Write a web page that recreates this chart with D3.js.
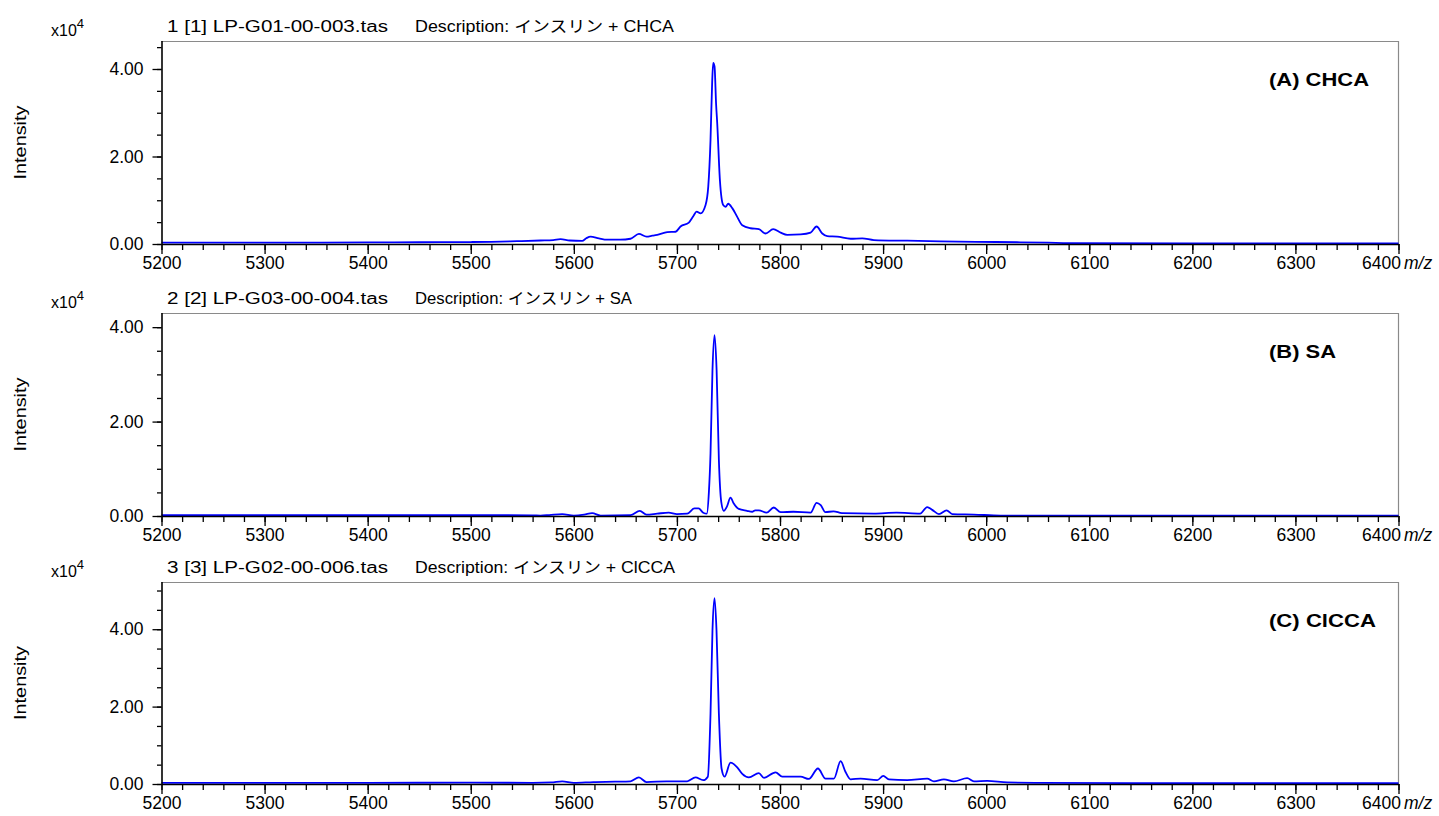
<!DOCTYPE html>
<html>
<head>
<meta charset="utf-8">
<script src="https://cdn.jsdelivr.net/npm/d3@7"></script>
<style>
  html, body { margin: 0; padding: 0; background: #fff; }
  svg { display: block; }
  text { font-family: "Liberation Sans", Arial, "Noto Sans CJK JP", sans-serif; fill: #000; }
</style>
</head>
<body>
<svg id="chart" width="1439" height="816"></svg>
<script>
// ---- Data ----
const xTicksMajor = [5200, 5300, 5400, 5500, 5600, 5700, 5800, 5900, 6000, 6100, 6200, 6300, 6400];
const yTicksMajor = [0, 2, 4];
const yUnitLabel = "x10";
const yUnitExp = "4";
const xAxisTitle = "m/z";
const yAxisTitle = "Intensity";

const fileNames = ["1 [1] LP-G01-00-003.tas", "2 [2] LP-G03-00-004.tas", "3 [3] LP-G02-00-006.tas"];
const descriptions = ["Description: インスリン + CHCA", "Description: インスリン + SA", "Description: インスリン + ClCCA"];
const panelLabels = ["(A) CHCA", "(B) SA", "(C) ClCCA"];

// [m/z, intensity (x10^4)]
const specA = [
  [5200,0.03],[5300,0.03],[5400,0.035],[5450,0.04],[5500,0.045],[5520,0.05],[5545,0.065],[5567.7,0.08],
  [5580,0.09],[5587.1,0.11],[5596,0.08],[5608.1,0.07],[5612,0.13],[5616.2,0.17],[5624.3,0.13],[5632.4,0.10],
  [5645,0.10],[5655,0.12],[5663.1,0.23],[5670.5,0.17],[5676,0.19],[5680.9,0.21],[5690.6,0.27],[5698.7,0.28],
  [5703.5,0.40],[5711.6,0.49],[5716,0.64],[5719.1,0.74],[5723,0.70],[5727.8,0.89],[5730.4,1.31],[5732.6,2.38],
  [5734.2,3.7],[5735.2,4.14],[5736.5,4.06],[5738,3.2],[5739.1,2.76],[5741.7,1.46],[5744.9,0.89],[5747.2,0.85],
  [5749.8,0.92],[5753.7,0.82],[5758.5,0.62],[5763.4,0.43],[5771.4,0.36],[5779.5,0.34],[5786,0.24],[5793.4,0.34],
  [5800.6,0.26],[5807,0.21],[5820,0.22],[5829.7,0.26],[5835.5,0.40],[5841,0.24],[5845.8,0.18],[5855.5,0.17],
  [5868.5,0.12],[5879.8,0.13],[5891.1,0.09],[5923.4,0.075],[5955.8,0.06],[5990,0.05],[6030,0.04],[6060,0.03],
  [6080,0.02],[6200,0.015],[6400,0.015]
];
const specB = [
  [5200,0.02],[5300,0.02],[5400,0.02],[5500,0.02],[5560,0.015],[5567.7,0.01],[5576,0.02],[5588.7,0.04],
  [5600,0.01],[5610,0.03],[5617.8,0.06],[5626,0.01],[5655,0.02],[5664,0.11],[5670.5,0.03],[5680.9,0.05],
  [5692,0.07],[5700,0.04],[5710,0.05],[5717,0.16],[5721,0.16],[5725.5,0.07],[5729,0.05],[5731,0.5],
  [5732.6,1.33],[5734.5,3.09],[5736.5,3.83],[5738.5,3.09],[5740.7,1.19],[5743,0.30],[5745.5,0.11],[5748.5,0.20],
  [5752,0.39],[5755,0.27],[5760,0.15],[5768,0.11],[5773,0.09],[5776,0.12],[5779.5,0.12],[5787,0.07],
  [5794,0.18],[5800.6,0.08],[5813,0.09],[5829.7,0.07],[5835.5,0.28],[5839.5,0.23],[5844,0.08],[5852,0.10],
  [5860,0.06],[5891,0.05],[5913,0.07],[5936,0.05],[5942.8,0.19],[5947.7,0.13],[5954.2,0.04],[5961.6,0.12],
  [5967.1,0.04],[5988,0.03],[6014,0.01],[6100,0.01],[6400,0.01]
];
const specC = [
  [5200,0.03],[5300,0.03],[5400,0.03],[5500,0.035],[5560,0.03],[5578,0.04],[5588.7,0.07],[5600,0.03],
  [5619,0.05],[5640,0.06],[5655,0.07],[5663.1,0.17],[5670.5,0.05],[5690,0.07],[5710,0.07],[5718,0.17],
  [5725.5,0.10],[5730,0.19],[5732.6,1.82],[5734.5,3.97],[5736.5,4.80],[5738.4,3.97],[5740.7,1.82],[5743.3,0.40],
  [5746.2,0.19],[5752,0.55],[5758.5,0.43],[5763.4,0.26],[5769.8,0.17],[5779.5,0.28],[5784.4,0.16],[5795.7,0.30],
  [5802.2,0.19],[5820,0.19],[5828,0.13],[5836.8,0.40],[5844.2,0.14],[5852.3,0.14],[5858.8,0.59],[5863.6,0.31],
  [5868.5,0.12],[5878.2,0.14],[5894.3,0.10],[5900.2,0.21],[5905.6,0.12],[5923.4,0.10],[5942.8,0.14],[5949.3,0.07],
  [5959,0.12],[5968.7,0.07],[5981.6,0.15],[5988.1,0.07],[6001,0.08],[6020.5,0.04],[6052.8,0.03],[6150,0.02],[6400,0.02]
];
const spectra = [specA, specB, specC];

// ---- Layout ----
const layout = [
  { top: 41,  bottom: 244, ymax: 4.64 },
  { top: 313, bottom: 516, ymax: 4.30 },
  { top: 582, bottom: 784, ymax: 5.22 }
];
const left = 161.5, right = 1398.5;
const fontSize = 17.5;

const svg = d3.select("#chart");
const x = d3.scaleLinear().domain([5200, 6400]).range([left, right]);
const xMinor = d3.range(5200, 6400.1, 20);

layout.forEach((p, i) => {
  const y = d3.scaleLinear().domain([0, p.ymax]).range([p.bottom, p.top]);
  const g = svg.append("g");
  const yMinor = d3.range(0, p.ymax + 1e-9, 0.5);

  // frame (top and right, gray)
  g.append("line").attr("x1", left).attr("x2", right).attr("y1", p.top + 0.5).attr("y2", p.top + 0.5)
    .attr("stroke", "#8a8a8a").attr("stroke-width", 1.2);
  g.append("line").attr("x1", right).attr("x2", right).attr("y1", p.top).attr("y2", p.bottom)
    .attr("stroke", "#8a8a8a").attr("stroke-width", 1.2);

  // spectrum line
  const line = d3.line().x(d => x(d[0])).y(d => y(d[1])).curve(d3.curveMonotoneX);
  g.append("path").datum(spectra[i]).attr("d", line)
    .attr("fill", "none").attr("stroke", "#0000ff").attr("stroke-width", 1.8).attr("stroke-linejoin", "round");

  // x axis minor
  g.append("g").attr("transform", `translate(0,${p.bottom})`)
    .call(d3.axisBottom(x).tickValues(xMinor).tickSize(6).tickSizeOuter(0).tickFormat(""))
    .call(a => a.select(".domain").remove())
    .selectAll("line").attr("stroke", "#000").attr("stroke-width", 1.3);
  // x axis major
  const xa = g.append("g").attr("transform", `translate(0,${p.bottom})`)
    .call(d3.axisBottom(x).tickValues(xTicksMajor).tickSize(10).tickSizeOuter(0).tickPadding(3).tickFormat(d3.format("d")));
  xa.select(".domain").attr("stroke", "#000").attr("stroke-width", 1.6);
  xa.selectAll("line").attr("stroke", "#000").attr("stroke-width", 1.3);
  xa.selectAll("text").attr("font-size", fontSize).attr("font-family", null).style("fill", "#000");
  xa.selectAll("text").filter(d => d === xTicksMajor[xTicksMajor.length - 1])
    .attr("text-anchor", "end").attr("x", 2);

  // y axis minor
  g.append("g").attr("transform", `translate(${left},0)`)
    .call(d3.axisLeft(y).tickValues(yMinor).tickSize(4.5).tickSizeOuter(0).tickFormat(""))
    .call(a => a.select(".domain").remove())
    .selectAll("line").attr("stroke", "#000").attr("stroke-width", 1.3);
  // y axis major
  const ya = g.append("g").attr("transform", `translate(${left},0)`)
    .call(d3.axisLeft(y).tickValues(yTicksMajor).tickSize(9).tickSizeOuter(0).tickPadding(9).tickFormat(d3.format(".2f")));
  ya.select(".domain").attr("stroke", "#000").attr("stroke-width", 1.6)
    .attr("d", `M0.5,${p.top}V${p.bottom}`);
  ya.selectAll("line").attr("stroke", "#000").attr("stroke-width", 1.3);
  ya.selectAll("text").attr("font-size", fontSize).attr("font-family", null).style("fill", "#000");

  // m/z
  g.append("text").attr("x", 1404).attr("y", p.bottom + 25).attr("font-size", fontSize)
    .attr("font-style", "italic").text(xAxisTitle);

  // Intensity
  g.append("text").attr("transform", `translate(26,${(p.top + p.bottom) / 2}) rotate(-90)`)
    .attr("text-anchor", "middle").attr("font-size", 16).attr("textLength", 74)
    .attr("lengthAdjust", "spacingAndGlyphs").text(yAxisTitle);

  // x10^4
  const u = g.append("text").attr("x", 51).attr("y", p.top - 5).attr("font-size", 16);
  u.append("tspan").text(yUnitLabel);
  u.append("tspan").attr("font-size", 13).attr("dy", -8).text(yUnitExp);

  // titles
  g.append("text").attr("x", 167).attr("y", p.top - 9).attr("font-size", 16)
    .attr("textLength", 221).attr("lengthAdjust", "spacingAndGlyphs").text(fileNames[i]);
  const dLen = [259, 217, 260][i];
  g.append("text").attr("x", 415).attr("y", p.top - 9).attr("font-size", 16)
    .attr("textLength", dLen).attr("lengthAdjust", "spacingAndGlyphs").text(descriptions[i]);

  // panel label
  const lLen = [100, 67, 107][i];
  g.append("text").attr("x", 1269).attr("y", p.top + 45).attr("font-size", 18).attr("font-weight", "bold")
    .attr("textLength", lLen).attr("lengthAdjust", "spacingAndGlyphs").text(panelLabels[i]);
});
</script>
</body>
</html>
